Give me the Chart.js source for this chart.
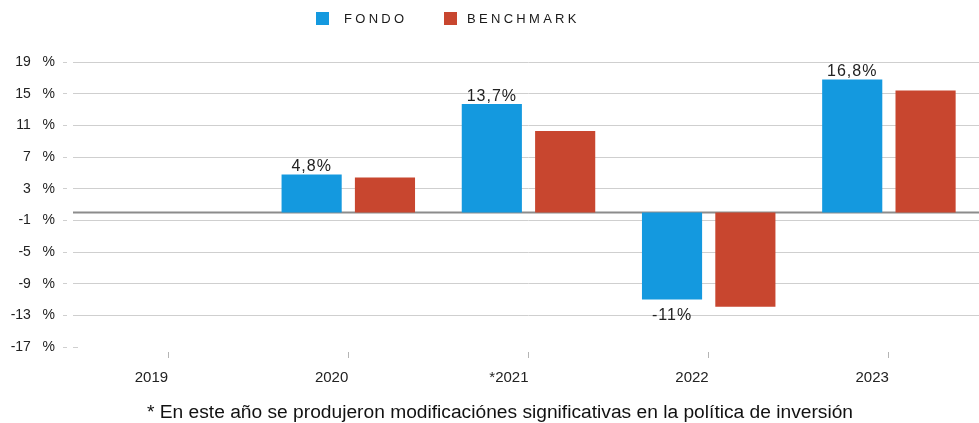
<!DOCTYPE html>
<html>
<head>
<meta charset="utf-8">
<script src="https://cdn.jsdelivr.net/npm/chart.js@4/dist/chart.umd.min.js"></script>
<style>
  html, body { margin: 0; padding: 0; background: #fff; }
  #wrap { position: relative; width: 979px; height: 423px; font-family: "Liberation Sans", Arial, sans-serif; }
  #chart { position: absolute; left: 0; top: 0; }
  .sq { position: absolute; top: 12px; width: 13px; height: 13px; }
  .lg { position: absolute; top: 10px; font-size: 13px; line-height: 17px; letter-spacing: 3.3px; color: #1a1a1a; }
  #note { position: absolute; left: 0; width: 1000px; top: 401px; text-align: center; font-size: 19.2px; line-height: 22px; color: #111; white-space: nowrap; }
</style>
</head>
<body>
<div id="wrap">
  <canvas id="chart" width="979" height="423"></canvas>
  <div class="sq" style="left:316px;background:#1499df"></div>
  <div class="lg" style="left:344px">FONDO</div>
  <div class="sq" style="left:444px;background:#c8462f"></div>
  <div class="lg" style="left:467px">BENCHMARK</div>
  <div id="note">* En este año se produjeron modificaciónes significativas en la política de inversión</div>
</div>
<script>
const years = ['2019', '2020', '*2021', '2022', '2023'];
const fondo = [null, 4.8, 13.7, -11, 16.8];
const benchmark = [null, 4.4, 10.3, -11.9, 15.4];
const fondoTexts = ['', '4,8%', '13,7%', '-11%', '16,8%'];
const Y_MIN = -17, Y_MAX = 19, Y_STEP = 4;

const colors = { fondo: '#1499df', benchmark: '#c8462f' };
const gridColor = '#cfcfcf';

const zeroLine = {
    id: 'zeroLine',
    beforeDatasetsDraw(chart) {
        const { ctx, chartArea, scales } = chart;
        const y = Math.round(scales.y.getPixelForValue(0)) + 0.5;
        ctx.save();
        ctx.strokeStyle = '#8c8c8c';
        ctx.lineWidth = 2;
        ctx.beginPath();
        ctx.moveTo(chartArea.left - 5, y);
        ctx.lineTo(chartArea.right, y);
        ctx.stroke();
        ctx.restore();
    }
};

const valueLabels = {
    id: 'valueLabels',
    afterDatasetsDraw(chart) {
        const ctx = chart.ctx;
        const meta = chart.getDatasetMeta(0);
        ctx.save();
        ctx.letterSpacing = '1px';
        ctx.font = '16px "Liberation Sans", Arial, sans-serif';
        ctx.fillStyle = '#222';
        ctx.textAlign = 'center';
        meta.data.forEach((bar, i) => {
            if (fondo[i] === null) return;
            if (fondo[i] >= 0) {
                ctx.textBaseline = 'alphabetic';
                ctx.fillText(fondoTexts[i], bar.x, bar.y - 3);
            } else {
                ctx.textBaseline = 'top';
                ctx.fillText(fondoTexts[i], bar.x, bar.y + 8);
            }
        });
        ctx.restore();
        ctx.letterSpacing = '0px';
    }
};

new Chart(document.getElementById('chart'), {
    type: 'bar',
    data: {
        labels: years,
        datasets: [
            { label: 'FONDO', data: fondo, backgroundColor: colors.fondo },
            { label: 'BENCHMARK', data: benchmark, backgroundColor: colors.benchmark }
        ]
    },
    options: {
        responsive: false,
        animation: false,
        devicePixelRatio: 1,
        categoryPercentage: 0.814,
        barPercentage: 0.82,
        layout: { padding: { top: 62, right: 0, bottom: 34, left: 0 } },
        plugins: { legend: { display: false }, tooltip: { enabled: false } },
        scales: {
            x: {
                afterFit(scale) { scale.height = 42; },
                border: { display: false },
                grid: {
                    offset: false,
                    drawOnChartArea: false,
                    tickLength: 11,
                    tickColor: '#b5b5b5',
                    tickBorderDash: [6, 50],
                    tickBorderDashOffset: -5
                },
                ticks: {
                    align: 'end',
                    padding: 11,
                    color: '#222',
                    font: { family: '"Liberation Sans", Arial, sans-serif', size: 15 }
                }
            },
            y: {
                min: Y_MIN,
                max: Y_MAX,
                afterFit(scale) { scale.width = 78; },
                border: { display: false },
                grid: {
                    color: (c) => (c.tick && c.tick.value === Y_MIN ? 'rgba(0,0,0,0)' : gridColor),
                    tickColor: gridColor,
                    tickLength: 15,
                    tickBorderDash: [4, 6, 30]
                },
                ticks: {
                    stepSize: Y_STEP,
                    padding: 8,
                    color: '#222',
                    font: { family: '"Liberation Sans", Arial, sans-serif', size: 14 },
                    callback: (v) => v + '   %'
                }
            }
        }
    },
    plugins: [zeroLine, valueLabels]
});
</script>
</body>
</html>
